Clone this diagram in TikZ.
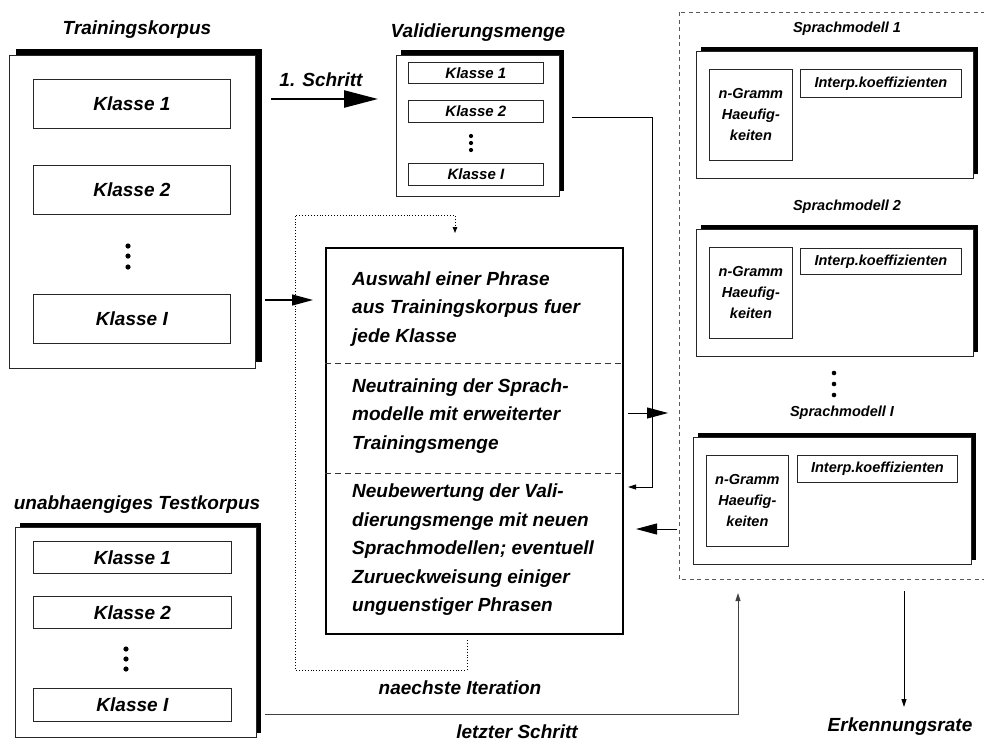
\documentclass[tikz,border=0pt]{standalone}
\usepackage{fontspec}
\setmainfont{Liberation Sans}
\usetikzlibrary{arrows.meta,shadows}
\begin{document}
\begin{tikzpicture}[x=1pt,y=-1pt,
  big/.style={font=\fontsize{19}{28.5}\selectfont\bfseries\itshape},
  mid/.style={font=\fontsize{15}{18}\selectfont\bfseries\itshape},
  small/.style={font=\fontsize{14.5}{21}\selectfont\bfseries\itshape},
  box/.style={draw=black!85, line width=0.8pt, fill=white, inner sep=0pt, anchor=north west},
  frame/.style={box, general shadow={fill=black, shadow xshift=#1, shadow yshift=#1}},
  dot/.style={fill=black},
  conn/.style={draw=black, line width=0.9pt},
  bigtip/.style={conn, -{Triangle[length=21pt, width=11pt]}},
  smalltip/.style={conn, -{Triangle[length=8pt, width=5pt]}},
]
\useasboundingbox (0,0) rectangle (984,745);
\clip (0,0) rectangle (984,745);

% ---------- Trainingskorpus ----------
\node[big] (ttitle) at (137,30) {Trainingskorpus};
\node[frame=6.5pt, minimum width=246pt, minimum height=313pt] (train) at (9,55) {};
\node[box, big, minimum width=197pt, minimum height=49pt] (tk1) at (33,79) {Klasse 1};
\node[box, big, minimum width=197pt, minimum height=49pt] (tk2) at (33,165) {Klasse 2};
\node[box, big, minimum width=197pt, minimum height=49pt] (tkI) at (33,294) {Klasse I};
\fill[dot] (128,246) circle (2.6pt) (128,256) circle (2.6pt) (128,267) circle (2.6pt);

% ---------- Validierungsmenge ----------
\node[big] (vtitle) at (478,33) {Validierungsmenge};
\node[frame=5pt, minimum width=163pt, minimum height=141pt] (val) at (396,55) {};
\node[box, mid, minimum width=135pt, minimum height=21pt] (vk1) at (408,62) {Klasse 1};
\node[box, mid, minimum width=135pt, minimum height=22pt] (vk2) at (408,100) {Klasse 2};
\node[box, mid, minimum width=135pt, minimum height=22pt] (vkI) at (408,163) {Klasse I};
\fill[dot] (471,136) circle (2.1pt) (471,143) circle (2.1pt) (471,150) circle (2.1pt);

% ---------- Testkorpus ----------
\node[big] (testtitle) at (137,505) {unabhaengiges Testkorpus};
\node[frame=4.5pt, minimum width=241pt, minimum height=210pt] (test) at (15,527) {};
\node[box, big, minimum width=198pt, minimum height=32pt] (sk1) at (33,541) {Klasse 1};
\node[box, big, minimum width=198pt, minimum height=32pt] (sk2) at (33,596) {Klasse 2};
\node[box, big, minimum width=198pt, minimum height=33pt] (skI) at (33,688) {Klasse I};
\fill[dot] (126,649) circle (2.6pt) (126,659) circle (2.6pt) (126,669) circle (2.6pt);

% ---------- Sprachmodelle ----------
\draw[draw=black!65, line width=0.8pt, dash pattern=on 4pt off 3.5pt] (679,12) rectangle (1000,579);

\node[small] (m1title) at (847,29) {Sprachmodell 1};
\node[frame=4.5pt, minimum width=277pt, minimum height=127pt] (lm1) at (696,51) {};
\node[box, small, align=center, minimum width=83pt, minimum height=91pt] (ng1) at (709,69) {n-Gramm\\Haeufig-\\keiten};
\node[box, small, minimum width=161pt, minimum height=28pt] (ip1) at (800,69) {Interp.koeffizienten};

\node[small] (m2title) at (847,207) {Sprachmodell 2};
\node[frame=4.5pt, minimum width=277pt, minimum height=127pt] (lm2) at (696,229) {};
\node[box, small, align=center, minimum width=83pt, minimum height=91pt] (ng2) at (709,247) {n-Gramm\\Haeufig-\\keiten};
\node[box, small, minimum width=161pt, minimum height=26pt] (ip2) at (800,248) {Interp.koeffizienten};

\fill[dot] (834,373) circle (2.3pt) (834,384) circle (2.3pt) (834,395) circle (2.3pt);

\node[small] (mItitle) at (842,413) {Sprachmodell I};
\node[frame=4.5pt, minimum width=278pt, minimum height=127pt] (lmI) at (693,437) {};
\node[box, small, align=center, minimum width=82pt, minimum height=91pt] (ngI) at (706,455) {n-Gramm\\Haeufig-\\keiten};
\node[box, small, minimum width=160pt, minimum height=27pt] (ipI) at (797,455) {Interp.koeffizienten};

% ---------- Iterationsblock ----------
\node[draw=black, line width=2pt, fill=white, inner sep=0pt, anchor=north west,
      minimum width=297pt, minimum height=386pt] (iter) at (325,247) {};
\draw[draw=black!80, line width=0.8pt, dash pattern=on 6pt off 4pt] (325,363) -- (622,363) (325,473) -- (622,473);
\node[big, align=left, anchor=west, inner sep=0pt] (s1) at (352,309)
  {Auswahl einer Phrase\\aus Trainingskorpus fuer\\jede Klasse};
\node[big, align=left, anchor=west, inner sep=0pt] (s2) at (352,416)
  {Neutraining der Sprach-\\modelle mit erweiterter\\Trainingsmenge};
\node[big, align=left, anchor=west, inner sep=0pt] (s3) at (352,550)
  {Neubewertung der Vali-\\dierungsmenge mit neuen\\Sprachmodellen; eventuell\\Zurueckweisung einiger\\unguenstiger Phrasen};

% ---------- Verbindungen ----------
% 1. Schritt
\coordinate (a1s) at (271,99);
\coordinate (a1e) at (378,99);
\draw[conn, line width=2.4pt, -{Triangle[length=34pt, width=17pt]}] (a1s) -- (a1e);
\node[big] (a1lbl) at (321,80) {1. Schritt};

% Trainingskorpus -> Iterationsblock
\coordinate (a2s) at (265,300);
\coordinate (a2e) at (313,300);
\draw[bigtip, line width=1.2pt] (a2s) -- (a2e);

% Iterationsblock -> Sprachmodelle
\coordinate (a3s) at (628,413);
\coordinate (a3e) at (668,413);
\draw[bigtip] (a3s) -- (a3e);

% Validierungsmenge -> Neubewertung
\coordinate (a4s) at (572,117);
\coordinate (a4k) at (652,487);
\coordinate (a4e) at (628,487);
\draw[smalltip] (a4s) -| (a4k) -- (a4e);

% Sprachmodelle -> Neubewertung
\coordinate (a5s) at (677,529);
\coordinate (a5e) at (636,529);
\draw[bigtip] (a5s) -- (a5e);

% naechste Iteration (gepunktete Schleife)
\coordinate (l1) at (467,640);
\coordinate (l2) at (295,670);
\coordinate (l3) at (455,215);
\coordinate (l4) at (455,233);
\draw[conn, dotted, line width=1pt, -{Triangle[length=6pt, width=4.5pt]}]
  (l1) |- (l2) |- (l3) -- (l4);
\node[big] (looplbl) at (460,688) {naechste Iteration};

% letzter Schritt
\coordinate (a6s) at (265,714);
\coordinate (a6e) at (738,593);
\draw[smalltip, draw=black!75] (a6s) -| (a6e);
\node[big] (a6lbl) at (517,732) {letzter Schritt};

% Erkennungsrate
\coordinate (a7s) at (904,591);
\coordinate (a7e) at (904,707);
\draw[smalltip] (a7s) -- (a7e);
\node[big] (a7lbl) at (900,727) {Erkennungsrate};
\end{tikzpicture}
\end{document}
